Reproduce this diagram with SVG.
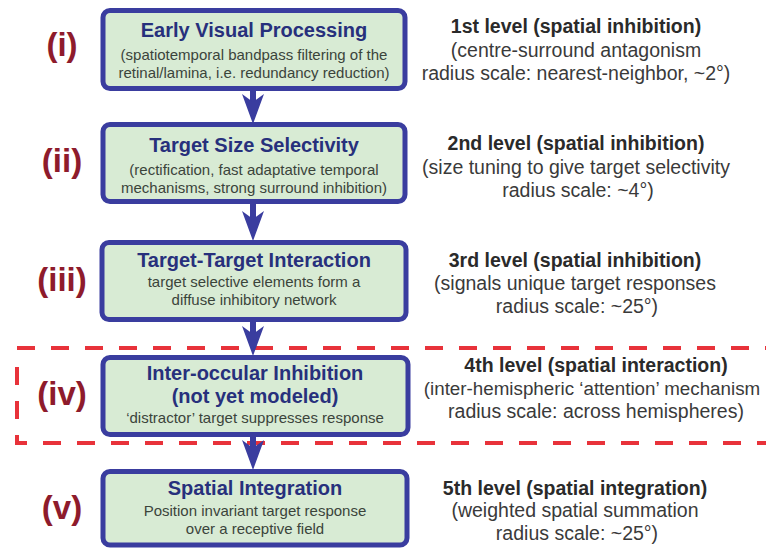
<svg xmlns="http://www.w3.org/2000/svg" width="766" height="548" viewBox="0 0 766 548">
<style>
  .box { fill: #d8ebd4; stroke: #3a3d9f; stroke-width: 5; }
  .title { font-family: "Liberation Sans", Arial, sans-serif; font-weight: bold; font-size: 20px; fill: #27307c; text-anchor: middle; }
  .sub { font-family: "Liberation Sans", Arial, sans-serif; font-size: 15px; fill: #3b443b; text-anchor: middle; }
  .num { font-family: "Liberation Sans", Arial, sans-serif; font-weight: bold; font-size: 33px; fill: #8e1b2c; text-anchor: middle; }
  .lvl { font-family: "Liberation Sans", Arial, sans-serif; font-weight: bold; font-size: 19.5px; fill: #2a2a2a; text-anchor: middle; }
  .desc { font-family: "Liberation Sans", Arial, sans-serif; font-size: 19.5px; fill: #3a3a3a; text-anchor: middle; }
  .conn { stroke: #3a3d9f; stroke-width: 6; fill: none; marker-end: url(#head); }
  .dash { stroke: #e8323a; stroke-width: 4; fill: none; stroke-dasharray: 18 16; }
</style>
<defs>
  <marker id="head" markerUnits="userSpaceOnUse" viewBox="0 0 30 22" refX="22" refY="11" markerWidth="30" markerHeight="22" orient="auto">
    <path d="M0,0 L30,11 L0,22 L8,11 Z" fill="#3a3d9f"/>
  </marker>
</defs>
<rect width="766" height="548" fill="#ffffff"/>

<g id="attention-region">
  <path class="dash" d="M17,348 H772"/>
  <path class="dash" d="M17,367 V443 H772"/>
</g>

<g id="connectors">
  <line class="conn" x1="253" y1="90" x2="253" y2="116"/>
  <line class="conn" x1="253" y1="203" x2="253" y2="233"/>
  <line class="conn" x1="253" y1="321" x2="253" y2="348"/>
  <line class="conn" x1="253" y1="436" x2="253" y2="462"/>
</g>

<g id="node1">
  <rect class="box" x="103" y="10.5" width="302" height="78" rx="7"/>
  <text class="title" x="254" y="37">Early Visual Processing</text>
  <text class="sub" x="254" y="60">(spatiotemporal bandpass filtering of the</text>
  <text class="sub" x="254" y="78">retinal/lamina, i.e. redundancy reduction)</text>
</g>
<g id="node2">
  <rect class="box" x="103" y="124.5" width="302" height="77" rx="7"/>
  <text class="title" x="254" y="152">Target Size Selectivity</text>
  <text class="sub" x="254" y="175">(rectification, fast adaptative temporal</text>
  <text class="sub" x="254" y="193">mechanisms, strong surround inhibition)</text>
</g>
<g id="node3">
  <rect class="box" x="102" y="242.5" width="304" height="77" rx="7"/>
  <text class="title" x="254" y="267">Target-Target Interaction</text>
  <text class="sub" x="254" y="287">target selective elements form a</text>
  <text class="sub" x="254" y="305">diffuse inhibitory network</text>
</g>
<g id="node4">
  <rect class="box" x="103" y="357.5" width="305" height="77" rx="7"/>
  <text class="title" x="255" y="380">Inter-occular Inhibition</text>
  <text class="title" x="255" y="403">(not yet modeled)</text>
  <text class="sub" x="255" y="423">‘distractor’ target suppresses response</text>
</g>
<g id="node5">
  <rect class="box" x="103" y="471.5" width="304" height="73.5" rx="7"/>
  <text class="title" x="255" y="495">Spatial Integration</text>
  <text class="sub" x="255" y="516">Position invariant target response</text>
  <text class="sub" x="255" y="534">over a receptive field</text>
</g>

<g id="stage-labels">
  <text class="num" x="62" y="56">(i)</text>
  <text class="num" x="62" y="172">(ii)</text>
  <text class="num" x="62" y="291">(iii)</text>
  <text class="num" x="62" y="405">(iv)</text>
  <text class="num" x="62" y="519">(v)</text>
</g>

<g id="level-descriptions">
  <text class="lvl" x="576" y="33">1st level (spatial inhibition)</text>
  <text class="desc" x="576" y="57">(centre-surround antagonism</text>
  <text class="desc" x="576" y="80">radius scale: nearest-neighbor, ~2°)</text>

  <text class="lvl" x="576" y="150">2nd level (spatial inhibition)</text>
  <text class="desc" x="576" y="174">(size tuning to give target selectivity</text>
  <text class="desc" x="578" y="197">radius scale: ~4°)</text>

  <text class="lvl" x="575" y="267">3rd level (spatial inhibition)</text>
  <text class="desc" x="575" y="290">(signals unique target responses</text>
  <text class="desc" x="577" y="313">radius scale: ~25°)</text>

  <text class="lvl" x="596" y="372">4th level (spatial interaction)</text>
  <text class="desc" x="592" y="395" style="font-size:18.8px">(inter-hemispheric ‘attention’ mechanism</text>
  <text class="desc" x="596" y="418">radius scale: across hemispheres)</text>

  <text class="lvl" x="575" y="495">5th level (spatial integration)</text>
  <text class="desc" x="575" y="517">(weighted spatial summation</text>
  <text class="desc" x="577" y="540">radius scale: ~25°)</text>
</g>
</svg>
